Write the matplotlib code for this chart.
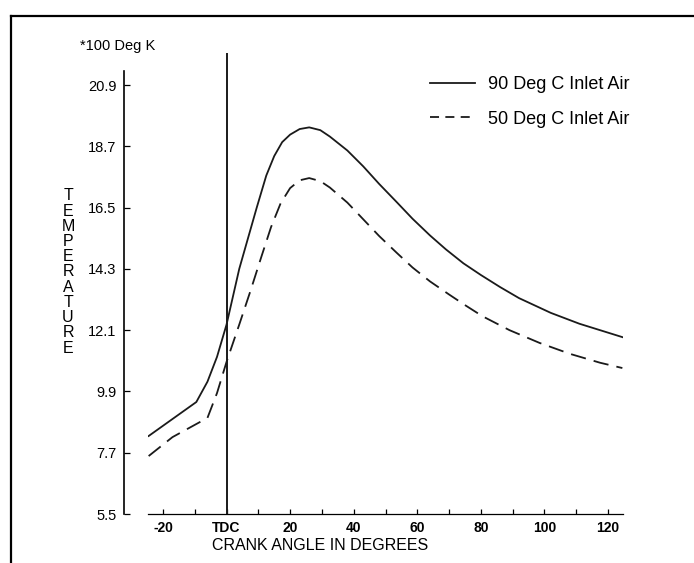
import matplotlib
matplotlib.use("Agg")
import matplotlib.pyplot as plt
from matplotlib.lines import Line2D
from matplotlib.ticker import MultipleLocator, FixedLocator

# ---- data ----
x_ticks = [-20, 0, 20, 40, 60, 80, 100, 120]
x_tick_labels = ["-20", "TDC", "20", "40", "60", "80", "100", "120"]
y_ticks = [5.5, 7.7, 9.9, 12.1, 14.3, 16.5, 18.7, 20.9]
y_tick_labels = ["5.5", "7.7", "9.9", "12.1", "14.3", "16.5", "18.7", "20.9"]

hot_x = [-24.5, -9.5, -6, -3, 0, 4, 9.5, 12.5, 15, 17.5, 20, 23, 26, 29.5, 32.5,
         38, 43, 48, 53.5, 58.5, 64, 69, 74.5, 80, 86, 92, 102, 111, 124.5]
hot_y = [8.30, 9.52, 10.25, 11.14, 12.30, 14.30, 16.50, 17.65, 18.35, 18.85, 19.12,
         19.32, 19.38, 19.28, 19.05, 18.55, 17.98, 17.35, 16.70, 16.10, 15.50,
         15.00, 14.50, 14.08, 13.65, 13.25, 12.72, 12.33, 11.85]

cool_x = [-24.5, -17, -6, -3, 0, 4, 7.5, 11, 14, 17, 20, 23, 26, 29.5, 32.5, 38,
          43, 48, 53.5, 58.5, 64, 70, 75, 80.5, 89, 98.5, 108, 117.5, 124.5]
cool_y = [7.58, 8.26, 8.95, 9.84, 10.96, 12.30, 13.50, 14.75, 15.80, 16.65, 17.20,
          17.48, 17.56, 17.45, 17.22, 16.68, 16.08, 15.48, 14.88, 14.35, 13.85,
          13.38, 13.00, 12.60, 12.10, 11.64, 11.25, 10.93, 10.74]

series_labels = ["90 Deg C Inlet Air", "50 Deg C Inlet Air"]

FONT = "Liberation Sans"
plt.rcParams["font.family"] = [FONT, "DejaVu Sans"]

W, H = 694, 563
fig = plt.figure(figsize=(W / 100, H / 100), dpi=100)

# outer frame (top and left edges)
fig.add_artist(Line2D([11 / W, 1.0], [1 - 16 / H, 1 - 16 / H], color="black", lw=1.6,
                      transform=fig.transFigure))
fig.add_artist(Line2D([11 / W, 11 / W], [0, 1 - 16 / H], color="black", lw=1.6,
                      transform=fig.transFigure))

ax = fig.add_axes([148 / W, 1 - 514 / H, (623 - 148) / W, (514 - 53) / H])
ax.set_xlim(-24.7, 124.7)
ax.set_ylim(5.5, 22.05)

ax.plot(hot_x, hot_y, color="#1a1a1a", lw=1.3, solid_joinstyle="round")
ax.plot(cool_x, cool_y, color="#1a1a1a", lw=1.3, dashes=(8.5, 4.5),
        dash_joinstyle="round")
ax.axvline(0, color="#1a1a1a", lw=1.4)

for s in ["top", "right"]:
    ax.spines[s].set_visible(False)
ax.spines["bottom"].set_linewidth(0.9)
ax.spines["left"].set_linewidth(1.2)
ax.spines["left"].set_position(("outward", 17.6))
ax.spines["left"].set_bounds(5.5, 21.4)

ax.xaxis.set_major_locator(FixedLocator(x_ticks))
ax.set_xticklabels(x_tick_labels, fontsize=10, fontweight="bold")
ax.xaxis.set_minor_locator(MultipleLocator(10))
ax.tick_params(axis="x", which="both", direction="in", length=3.5, width=0.9, pad=5)

ax.yaxis.set_major_locator(FixedLocator(y_ticks))
ax.set_yticklabels(y_tick_labels, fontsize=10.5)
ax.tick_params(axis="y", which="both", direction="in", length=4, width=0.9, pad=5)

fig.text(212 / W, 1 - 545 / H, "CRANK ANGLE IN DEGREES", fontsize=11.5,
         ha="left", va="center")
fig.text(80 / W, 1 - 46 / H, "*100 Deg K", fontsize=10.5, ha="left", va="center")
fig.text(68 / W, 1 - 272 / H, "\n".join("TEMPERATURE"), fontsize=11.5,
         ha="center", va="center", linespacing=1.02)

# legend
h1 = Line2D([], [], color="#1a1a1a", lw=1.3)
h2 = Line2D([], [], color="#1a1a1a", lw=1.3, dashes=(5, 3.5))
ax.legend([h1, h2], series_labels, loc="upper left", bbox_to_anchor=(0.578, 0.965),
          frameon=False, fontsize=13, handlelength=2.5, handletextpad=0.7,
          labelspacing=0.95, borderaxespad=0)

fig.savefig("out.png", dpi=100)
